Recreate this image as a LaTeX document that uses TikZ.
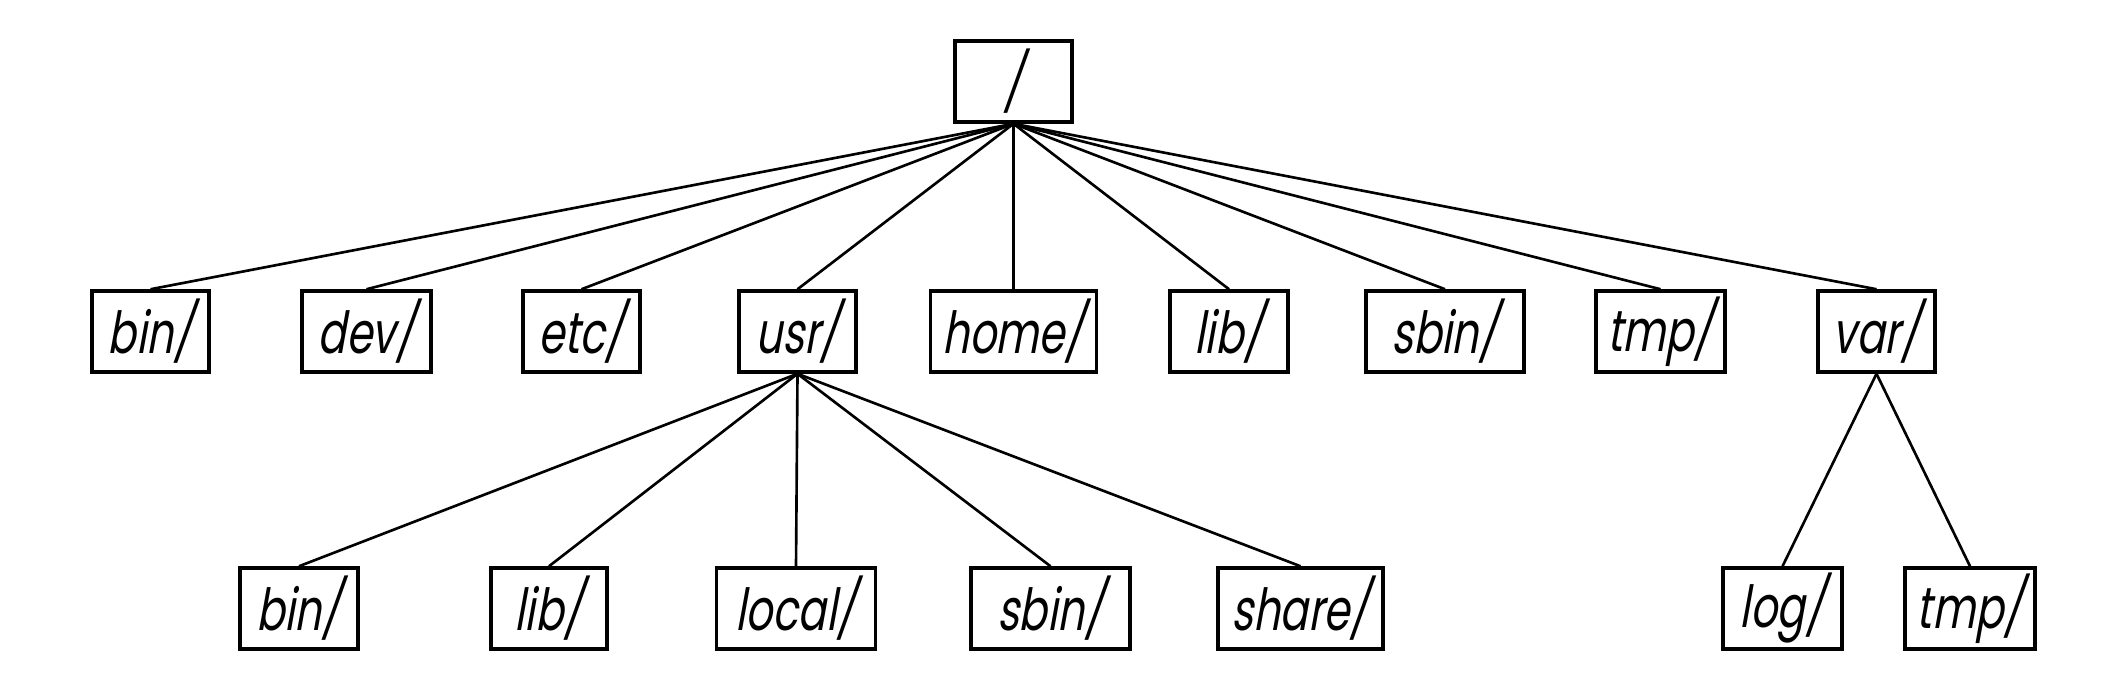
\documentclass[tikz,border=0pt]{standalone}
\usepackage{fontspec}
\newfontfamily\dirfont{Poppins}[FakeSlant=0.18,FakeStretch=0.72]
\usepackage{tikz}
\usetikzlibrary{positioning}

\tikzset{
  dir/.style={draw, line width=1pt, minimum height=0.81cm, inner sep=0pt,
    font=\dirfont\fontsize{16.5}{16.5}\selectfont},
  link/.style={line width=0.75pt}
}

\begin{document}
\begin{tikzpicture}
  \useasboundingbox (0,0) rectangle (21.22,6.92);
  \def\rowzero{6.105}
  \def\rowone{3.605}
  \def\rowtwo{0.835}

  \node[dir, minimum width=1.17cm] (root) at (10.135,\rowzero) {/};

  \node[dir, minimum width=1.17cm] (bin) at (1.505,\rowone) {bin/};
  \node[dir, minimum width=1.29cm] (dev) at (3.665,\rowone) {dev/};
  \node[dir, minimum width=1.17cm] (etc) at (5.815,\rowone) {etc/};
  \node[dir, minimum width=1.17cm] (usr) at (7.975,\rowone) {usr/};
  \node[dir, minimum width=1.66cm] (home) at (10.135,\rowone) {home/};
  \node[dir, minimum width=1.18cm] (lib) at (12.29,\rowone) {lib/};
  \node[dir, minimum width=1.58cm] (sbin) at (14.45,\rowone) {sbin/};
  \node[dir, minimum width=1.29cm] (tmp) at (16.605,\rowone) {tmp/};
  \node[dir, minimum width=1.17cm] (var) at (18.765,\rowone) {var/};

  \node[dir, minimum width=1.18cm] (usrbin) at (2.99,\rowtwo) {bin/};
  \node[dir, minimum width=1.16cm] (usrlib) at (5.49,\rowtwo) {lib/};
  \node[dir, minimum width=1.59cm] (usrlocal) at (7.96,\rowtwo) {local/};
  \node[dir, minimum width=1.59cm] (usrsbin) at (10.505,\rowtwo) {sbin/};
  \node[dir, minimum width=1.65cm] (usrshare) at (13.005,\rowtwo) {share/};
  \node[dir, minimum width=1.19cm] (varlog) at (17.825,\rowtwo) {log/};
  \node[dir, minimum width=1.30cm] (vartmp) at (19.70,\rowtwo) {tmp/};

  % top level
  \draw[link] (root.south) -- (bin.north);
  \draw[link] (root.south) -- (dev.north);
  \draw[link] (root.south) -- (etc.north);
  \draw[link] (root.south) -- (usr.north);
  \draw[link] (root.south) -- (home.north);
  \draw[link] (root.south) -- (lib.north);
  \draw[link] (root.south) -- (sbin.north);
  \draw[link] (root.south) -- (tmp.north);
  \draw[link] (root.south) -- (var.north);

  % under usr/
  \draw[link] (usr.south) -- (usrbin.north);
  \draw[link] (usr.south) -- (usrlib.north);
  \draw[link] (usr.south) -- (usrlocal.north);
  \draw[link] (usr.south) -- (usrsbin.north);
  \draw[link] (usr.south) -- (usrshare.north);

  % under var/
  \draw[link] (var.south) -- (varlog.north);
  \draw[link] (var.south) -- (vartmp.north);
\end{tikzpicture}
\end{document}
